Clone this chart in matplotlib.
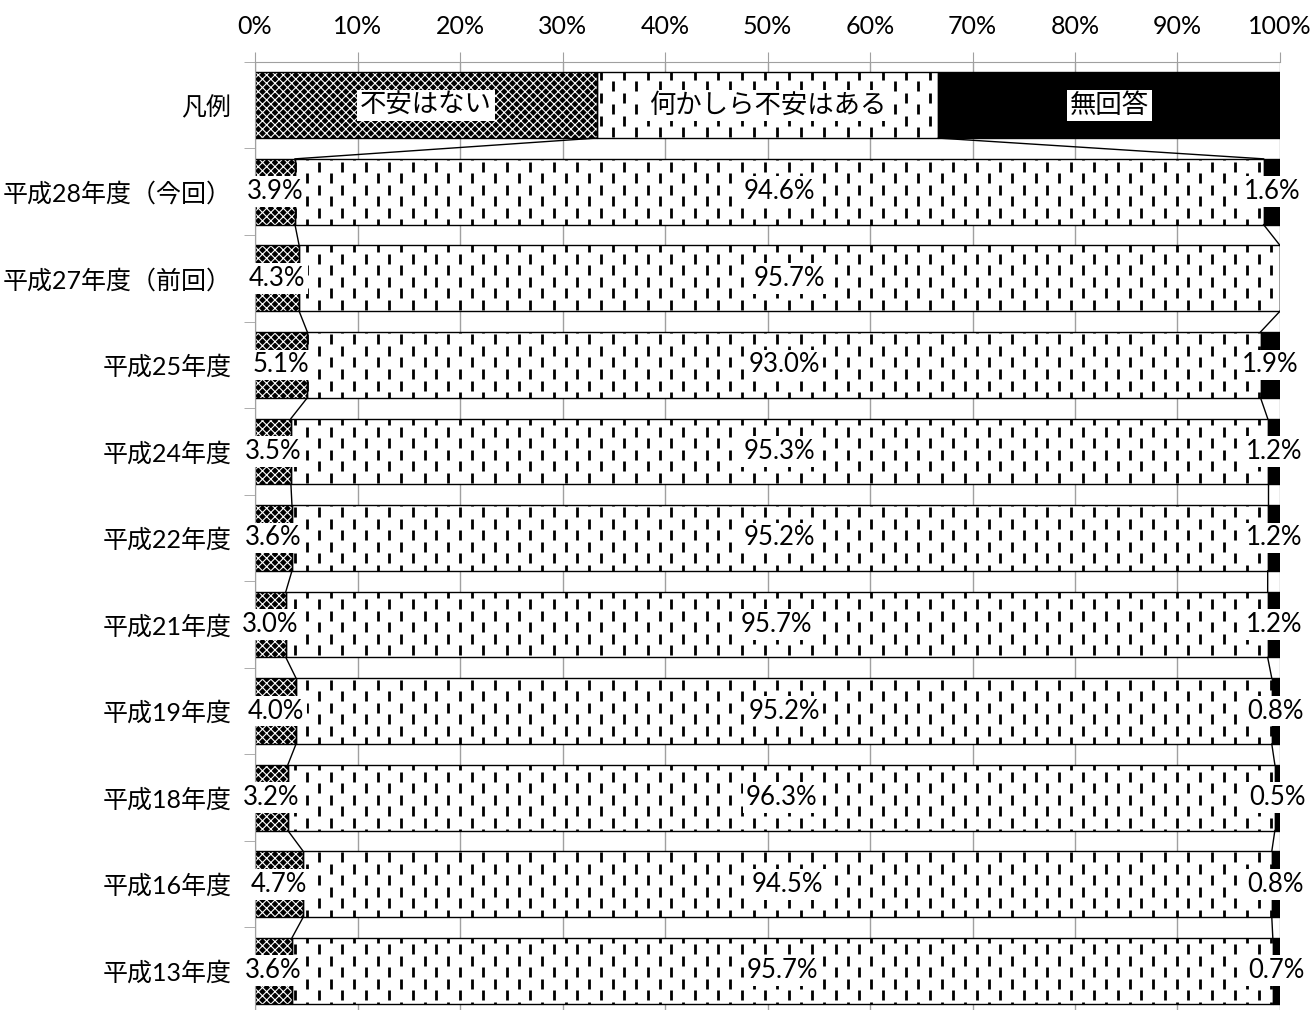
import numpy as np
import matplotlib.pyplot as plt

plt.rcParams['font.family'] = ['Lato', 'Noto Sans CJK JP', 'DejaVu Sans']
plt.rcParams['hatch.linewidth'] = 0.8

# data
rows = ["凡例", "平成28年度（今回）", "平成27年度（前回）", "平成25年度", "平成24年度",
        "平成22年度", "平成21年度", "平成19年度", "平成18年度", "平成16年度", "平成13年度"]
series = ["不安はない", "何かしら不安はある", "無回答"]
no_worry = [33.3, 3.9, 4.3, 5.1, 3.5, 3.6, 3.0, 4.0, 3.2, 4.7, 3.6]
some_worry = [33.3, 94.6, 95.7, 93.0, 95.3, 95.2, 95.7, 95.2, 96.3, 94.5, 95.7]
no_answer = [33.3, 1.6, 0.0, 1.9, 1.2, 1.2, 1.2, 0.8, 0.5, 0.8, 0.7]
xticks = [0, 10, 20, 30, 40, 50, 60, 70, 80, 90, 100]

vals = np.array([no_worry, some_worry, no_answer], dtype=float)
pct = vals / vals.sum(axis=0) * 100  # 100% stacked
left = np.vstack([np.zeros(len(rows)), np.cumsum(pct, axis=0)[:-1]])

fig = plt.figure(figsize=(13.12, 10.10), dpi=100)
ax = fig.add_axes([0.1944, -0.0040, 0.7812, 0.9427])

y = np.arange(len(rows))
h = 0.76

# segment 1: dark checker (white hatch on black), outline drawn separately
ax.barh(y, pct[0], left=left[0], height=h, facecolor='black', edgecolor='white',
        hatch='xxxx', linewidth=0, zorder=2)
ax.barh(y, pct[0], left=left[0], height=h, fill=False, edgecolor='black',
        linewidth=1.0, zorder=2.5)
mid = ax.barh(y, pct[1], left=left[1], height=h, facecolor='white',
              edgecolor='black', linewidth=1.0, zorder=2)
ax.barh(y, pct[2], left=left[2], height=h, facecolor='black',
        edgecolor='black', linewidth=1.0, zorder=2)

# dashed vertical texture for the middle segment (Excel pattern look)
px_x = 100 / 1025.0
px_y = 1 / 86.5
gx = np.arange(0.5, 100, 11.75 * px_x)
gy = np.arange(-0.75, 10.8, 23 * px_y)
GX, GY = np.meshgrid(gx, gy)
GY = GY + (np.arange(len(gx)) % 2) * 11.5 * px_y
GX, GY = GX.ravel(), GY.ravel()
for i, patch in enumerate(mid):
    x0, x1 = left[1][i], left[1][i] + pct[1][i]
    m = (GX > x0 - 1) & (GX < x1 + 1) & (GY > i - h / 2 - 0.1) & (GY < i + h / 2 + 0.1)
    sc = ax.scatter(GX[m], GY[m], marker='|', s=52, linewidths=2.0,
                    color='black', zorder=3)
    sc.set_clip_path(patch)

# series lines
for k in range(2):
    edge = left[k] + pct[k]
    for i in range(len(rows) - 1):
        ax.plot([edge[i], edge[i + 1]], [i + h / 2, i + 1 - h / 2],
                color='black', lw=1.0, zorder=3)

# labels
box = dict(facecolor='white', edgecolor='none', pad=2)
for k in range(3):
    ax.text(left[k][0] + pct[k][0] / 2, 0, series[k], ha='center', va='center',
            fontsize=19, bbox=box, zorder=5)
for i in range(1, len(rows)):
    for k in range(3):
        if vals[k][i] <= 0:
            continue
        ax.text(left[k][i] + pct[k][i] / 2, i, f"{vals[k][i]:.1f}%", ha='center',
                va='center', fontsize=18.5, bbox=box, zorder=5, clip_on=False)

ax.set_xlim(0, 100)
ax.set_ylim(len(rows) - 0.5, -0.5)
ax.set_xticks(xticks)
ax.set_xticklabels([f"{t}%" for t in xticks])
ax.xaxis.tick_top()
ax.tick_params(axis='x', length=7, color='#a0a0a0', labelsize=18, pad=10)
ax.set_yticks(y)
ax.set_yticklabels(rows)
ax.set_yticks(np.arange(-0.5, len(rows), 1), minor=True)
ax.tick_params(axis='y', which='major', length=0, labelsize=18, pad=17)
ax.tick_params(axis='y', which='minor', length=8, color='#a0a0a0')
ax.grid(axis='x', color='#a0a0a0', lw=1.0, zorder=0)
ax.set_axisbelow(True)
for s in ['right', 'bottom']:
    ax.spines[s].set_visible(False)
for s in ['top', 'left']:
    ax.spines[s].set_color('#a0a0a0')

plt.savefig("out.png", dpi=100)
